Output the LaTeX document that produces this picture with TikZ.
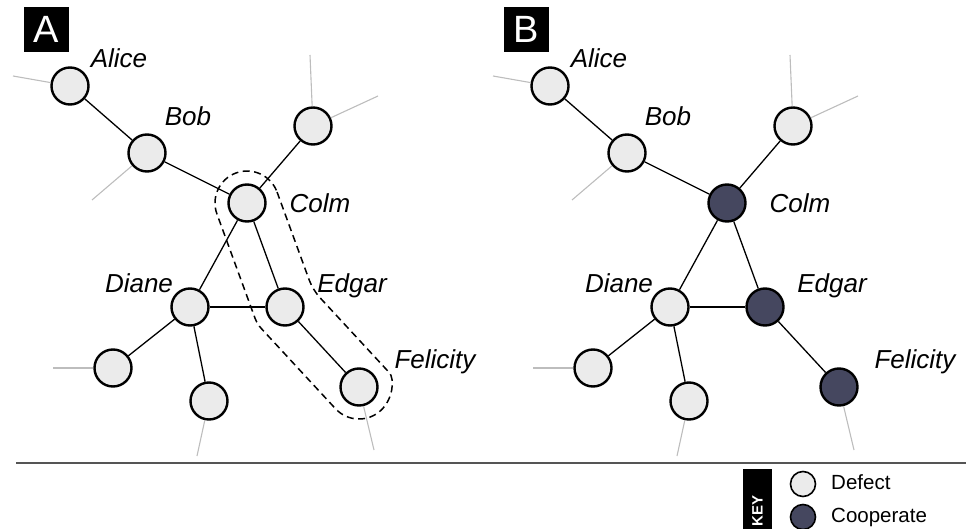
\documentclass[tikz,border=0pt]{standalone}
\usepackage{fontspec}
\setmainfont{Liberation Sans}
\definecolor{defectfill}{HTML}{EBEBEB}
\definecolor{coopfill}{HTML}{45475F}
\definecolor{stubgray}{HTML}{BDBDBD}
\definecolor{rulegray}{HTML}{555555}
\begin{document}
\begin{tikzpicture}[x=1pt,y=-1pt,
  agent/.style={circle,draw=black,line width=2.4pt,minimum size=37pt,inner sep=0pt},
  defect/.style={agent,fill=defectfill},
  coop/.style={agent,fill=coopfill},
  tie/.style={line width=1.3pt,black},
  stub/.style={line width=1.1pt,stubgray},
  who/.style={font=\fontsize{26}{30}\selectfont\itshape,inner sep=0pt,anchor=base},
  tag/.style={fill=black,text=white,minimum size=45pt,inner sep=0pt,font=\fontsize{38}{40}\selectfont},
  keydot/.style={circle,draw=black,line width=1.6pt,minimum size=25pt,inner sep=0pt},
  keytext/.style={font=\fontsize{20.5}{24}\selectfont,inner sep=0pt,anchor=base west},
  group/.style={line width=1.5pt,dash pattern=on 7pt off 4.5pt},
]
\useasboundingbox (0,0) rectangle (966,529);

% two copies of the same network; Colm, Edgar and Felicity change strategy in B
\foreach \p/\dx/\hot/\letter in {a/0/defect/A, b/480/coop/B}{
  \begin{scope}[xshift=\dx pt]
    \node[tag] (\p-tag) at (46.5,29.5) {\letter};

    \node[defect] (\p-alice) at (70,86) {};
    \node[defect] (\p-bob) at (147,153) {};
    \node[\hot] (\p-colm) at (247,203) {};
    \node[defect] (\p-top) at (313,126) {};
    \node[defect] (\p-diane) at (190,307) {};
    \node[\hot] (\p-edgar) at (285,307) {};
    \node[defect] (\p-left) at (113,368) {};
    \node[defect] (\p-low) at (209,401) {};
    \node[\hot] (\p-felicity) at (359,387) {};

    % ties leading out of the shown part of the network
    \coordinate (\p-s1) at (13,76);
    \coordinate (\p-s2) at (92,200);
    \coordinate (\p-s3) at (310,55);
    \coordinate (\p-s4) at (378,96);
    \coordinate (\p-s5) at (53,368);
    \coordinate (\p-s6) at (197,456);
    \coordinate (\p-s7) at (374,450);
    \draw[stub] (\p-alice) -- (\p-s1);
    \draw[stub] (\p-bob) -- (\p-s2);
    \draw[stub] (\p-top) -- (\p-s3);
    \draw[stub] (\p-top) -- (\p-s4);
    \draw[stub] (\p-left) -- (\p-s5);
    \draw[stub] (\p-low) -- (\p-s6);
    \draw[stub] (\p-felicity) -- (\p-s7);

    \draw[tie] (\p-alice) -- (\p-bob);
    \draw[tie] (\p-bob) -- (\p-colm);
    \draw[tie] (\p-colm) -- (\p-top);
    \draw[tie] (\p-colm) -- (\p-diane);
    \draw[tie] (\p-colm) -- (\p-edgar);
    \draw[tie] (\p-diane) -- (\p-edgar);
    \draw[tie] (\p-diane) -- (\p-left);
    \draw[tie] (\p-diane) -- (\p-low);
    \draw[tie] (\p-edgar) -- (\p-felicity);

    \node[who] (\p-lalice) at (119,68) {Alice};
    \node[who] (\p-lbob) at (188,126) {Bob};
    \node[who] (\p-lcolm) at (320,213) {Colm};
    \node[who] (\p-ldiane) at (139,292) {Diane};
    \node[who] (\p-ledgar) at (352,293) {Edgar};
    \node[who] (\p-lfelicity) at (435,368) {Felicity};
  \end{scope}
}

% the Colm--Edgar--Felicity chain singled out in A
\draw[group] (277.05,192.02) [rounded corners=10pt] -- (312.86,289.98) -- (382.49,365.27) [sharp corners]
  arc[start angle=-42.8, end angle=137.2, radius=32] -- (261.51,328.73)
  arc[start angle=137.2, end angle=159.9, radius=32] -- (216.95,214.02)
  arc[start angle=159.9, end angle=339.9, radius=32] -- cycle;

% separator and key
\draw[rulegray, line width=2pt] (16,463) -- (966,463);
\node[fill=black, minimum width=29pt, minimum height=60pt, inner sep=0pt] (keybox) at (757.5,499) {};
\node[text=white, rotate=90, font=\fontsize{15}{17}\selectfont\bfseries, inner sep=0pt] (keyword) at (757.5,511) {KEY};
\node[keydot, fill=defectfill] (kdefect) at (803,484) {};
\node[keydot, fill=coopfill] (kcoop) at (803,517) {};
\node[keytext] (tdefect) at (831,489) {Defect};
\node[keytext] (tcoop) at (831,522) {Cooperate};
\end{tikzpicture}
\end{document}
